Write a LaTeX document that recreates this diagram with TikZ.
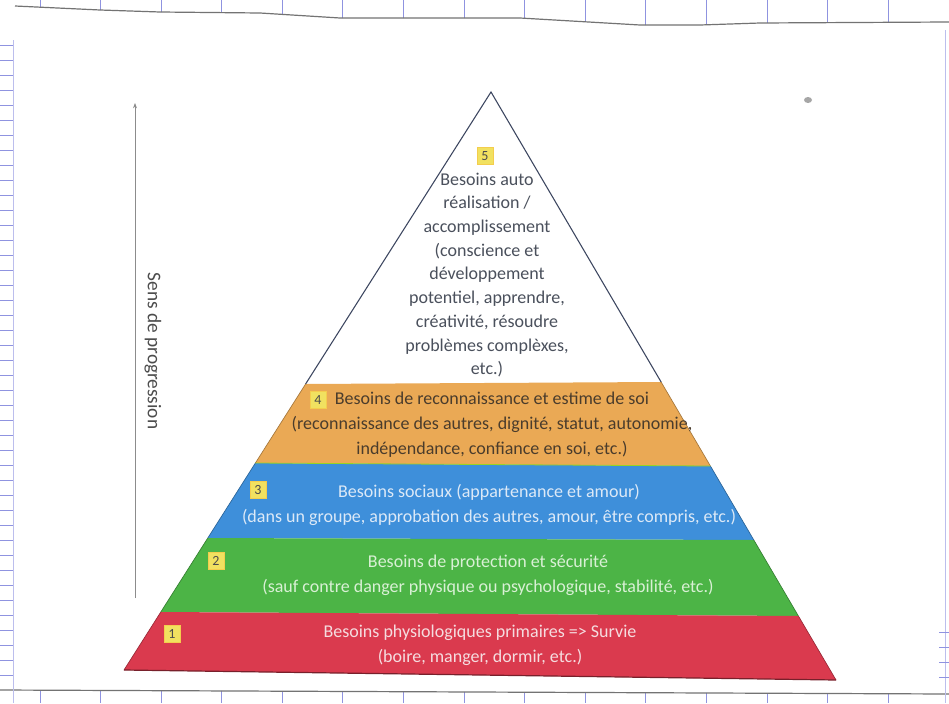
\documentclass[tikz,border=0pt]{standalone}
\usepackage{fontspec}
\setmainfont{Carlito}
\usetikzlibrary{arrows.meta}
\definecolor{bandorange}{HTML}{EAA955}
\definecolor{bandblue}{HTML}{3E8FDA}
\definecolor{bandgreen}{HTML}{4CB446}
\definecolor{bandred}{HTML}{DA3A4E}
\definecolor{gridblue}{HTML}{6A6FD6}
\definecolor{outline}{HTML}{3C4660}
\definecolor{badge}{HTML}{F1E160}
\definecolor{toptxt}{HTML}{4A505C}
\definecolor{orangetxt}{HTML}{4A3C2C}
\definecolor{bluetxt}{HTML}{DCE9F7}
\definecolor{greentxt}{HTML}{D9F0D5}
\definecolor{redtxt}{HTML}{F5DCDF}
\begin{document}
\begin{tikzpicture}[x=0.75pt,y=-0.75pt,
  gridline/.style={gridblue!75, line width=0.6pt},
  faintgrid/.style={gridblue!45, line width=0.6pt},
  paperedge/.style={black!55, line width=0.9pt},
  toptext/.style={font=\fontsize{13.5}{17.8}\selectfont, align=center, inner sep=0pt, text=toptxt},
  bandtext/.style={font=\fontsize{13.5}{18.75}\selectfont, align=center, inner sep=0pt},
  numbadge/.style={fill=badge, draw=badge!80!orange, line width=0.4pt, inner sep=1pt,
    minimum width=12pt, minimum height=13pt, font=\fontsize{10.5}{10.5}\selectfont, text=black!70},
  sideline/.style={black!45, line width=0.6pt}]
\useasboundingbox (0,0) rectangle (949,703);
\fill[white] (0,0) rectangle (949,703);

% ---- grid paper at the edges ----
\begin{scope}
  \clip (0,0) -- (0,5) -- (15,6) -- (100,10) -- (160,12) -- (260,13) -- (340,18) -- (520,18)
        -- (640,25) -- (700,25) -- (760,23) -- (949,22) -- (949,0) -- cycle;
  \foreach \gx in {40,100,161,221,282,342,403,464,524,585,645,706,767,827,888}
    \draw[gridline] (\gx,0) -- (\gx,40);
\end{scope}
\draw[paperedge] (15,6) -- (100,10) -- (160,12) -- (260,13) -- (340,18) -- (520,18)
        -- (640,25) -- (700,25) -- (760,23) -- (949,22);
\begin{scope}
  \clip (0,690) -- (949,694) -- (949,703) -- (0,703) -- cycle;
  \foreach \gx in {40,100,161,221,282,342,403,464,524,585,645,706,767,827,888}
    \draw[gridline] (\gx,680) -- (\gx,703);
\end{scope}
\draw[paperedge] (0,690) -- (949,694);
\draw[faintgrid] (13,40) -- (13,703);
\foreach \gy in {45,60,...,685}
  \draw[gridline] (0,\gy) -- (13,\gy);
\draw[faintgrid] (945,30) -- (945,703);
\foreach \gy in {632,647,...,690}
  \draw[gridline] (939,\gy) -- (949,\gy);
\fill[black!35] (808,100) ellipse (4 and 3);

% ---- pyramid ----
\coordinate (A) at (491,92);
\coordinate (L1) at (305.6,384);  \coordinate (R1) at (661.1,382);
\coordinate (L2) at (255.4,463);  \coordinate (R2) at (710.4,466);
\coordinate (L3) at (207.8,538);  \coordinate (R3) at (753.8,540);
\coordinate (L4) at (160.8,612);  \coordinate (R4) at (798.4,616);
\coordinate (L5) at (124,670);    \coordinate (R5) at (836,680);

\fill[bandorange] (L1) -- (R1) -- (R2) -- (L2) -- cycle;
\fill[bandblue]   (L2) -- (R2) -- (R3) -- (L3) -- cycle;
\fill[bandgreen]  (L3) -- (R3) -- (R4) -- (L4) -- cycle;
\fill[bandred]    (L4) -- (R4) -- (R5) -- (L5) -- cycle;
\draw[outline, line width=0.8pt] (L1) -- (A) -- (R1);
\draw[bandorange!70!black, line width=0.5pt] (L1) -- (L2) (R1) -- (R2);
\draw[bandblue!70!black, line width=0.5pt] (L2) -- (L3) (R2) -- (R3);
\draw[bandgreen!70!black, line width=0.5pt] (L3) -- (L4) (R3) -- (R4);
\draw[bandred!70!black, line width=0.5pt] (L4) -- (L5) (R4) -- (R5);
\draw[bandred!55!black, line width=0.9pt] (L5) -- (R5);
\draw[yellow!60!green, line width=0.6pt] (L2) -- (R2);

% ---- texts ----
\node[toptext] (t5) at (487,275) {Besoins auto\\réalisation /\\accomplissement\\(conscience et\\développement\\potentiel, apprendre,\\créativité, résoudre\\problèmes complèxes,\\etc.)};
\node[bandtext, text=orangetxt] (t4) at (492,425) {Besoins de reconnaissance et estime de soi\\(reconnaissance des autres, dignité, statut, autonomie,\\indépendance, confiance en soi, etc.)};
\node[bandtext, text=bluetxt] (t3) at (489,504.5) {Besoins sociaux (appartenance et amour)\\(dans un groupe, approbation des autres, amour, être compris, etc.)};
\node[bandtext, text=greentxt] (t2) at (488,575.5) {Besoins de protection et sécurité\\(sauf contre danger physique ou psychologique, stabilité, etc.)};
\node[bandtext, text=redtxt] (t1) at (480,645) {Besoins physiologiques primaires => Survie\\(boire, manger, dormir, etc.)};

% ---- number badges ----
\node[numbadge] (n5) at (485,156) {5};
\node[numbadge] (n4) at (318,400) {4};
\node[numbadge] (n3) at (258,490) {3};
\node[numbadge] (n2) at (216,561) {2};
\node[numbadge] (n1) at (172,634) {1};

% ---- progression arrow ----
\coordinate (arrB) at (135,598);
\coordinate (arrT) at (135,103);
\draw[sideline, -{Stealth[length=4pt,width=3pt]}] (arrB) -- (arrT);
\node[rotate=-90, font=\fontsize{14.5}{14.5}\selectfont, text=black!70, inner sep=0pt] (sens) at (153,351) {Sens de progression};
\end{tikzpicture}
\end{document}
